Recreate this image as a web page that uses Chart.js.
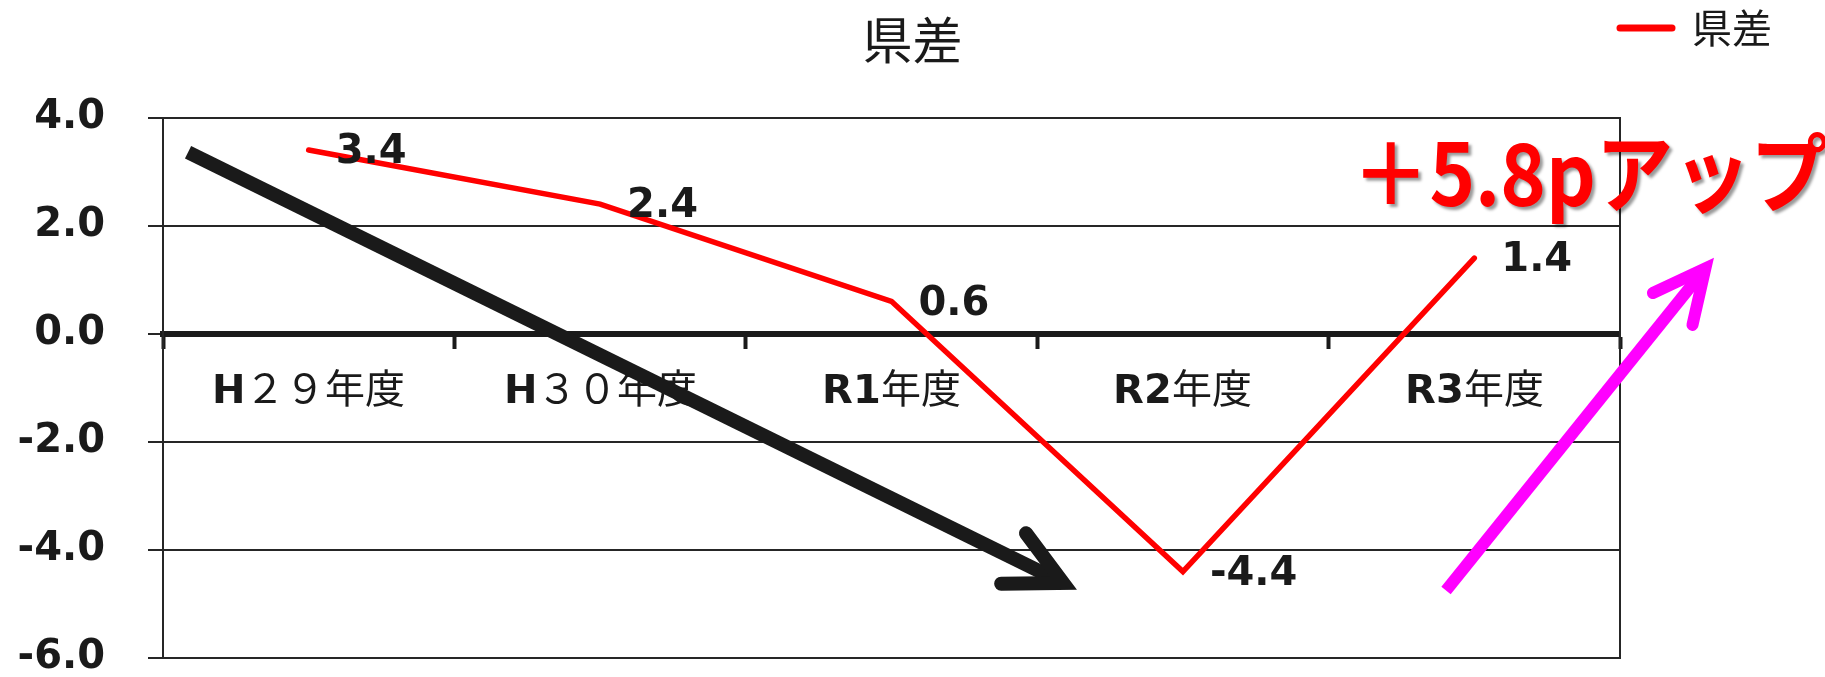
<!DOCTYPE html>
<html><head><meta charset="utf-8">
<script src="https://cdn.jsdelivr.net/npm/chart.js@4.4.1/dist/chart.umd.min.js"></script>
<style>
html,body{margin:0;padding:0;background:#fff;overflow:hidden}
@font-face{font-family:'LatinBold';src:local('DejaVu Sans Bold'),local('DejaVuSans-Bold');font-weight:bold;}
@font-face{font-family:'CJKReg';src:local('Noto Sans CJK JP Regular'),local('NotoSansCJKjp-Regular'),local('Noto Sans CJK JP');font-weight:bold;}
</style>
</head><body>
<canvas id="c" width="1825" height="677"></canvas>
<script>
// ---- data ----
const categories = ['H２９年度', 'H３０年度', 'R1年度', 'R2年度', 'R3年度'];
const values = [3.4, 2.4, 0.6, -4.4, 1.4];
const yTickValues = [-6, -4, -2, 0, 2, 4];
const seriesName = '県差';
const chartTitle = '県差';
const noteText = '＋5.8pアップ';
// annotation anchors in data units: [category index, value]
const downArrowFrom = [-0.414, 3.36];
const downArrowTo = [2.589, -4.61];
const upArrowFrom = [3.903, -4.75];
const upArrowTo = [4.793, 1.21];
const noteAnchor = [4.397, 2.96];

const FONT_MIX = 'LatinBold, CJKReg, "DejaVu Sans", "Noto Sans CJK JP", sans-serif';
const FONT_LATIN = '"DejaVu Sans", "Noto Sans CJK JP", sans-serif';
const FONT_CJK = '"Noto Sans CJK JP", "DejaVu Sans", sans-serif';
const INK = '#1a1a1a';

function drawArrow(ctx, p1, p2, color, w, head, angDeg) {
  const [x1, y1] = p1, [x2, y2] = p2;
  const a = Math.atan2(y2 - y1, x2 - x1), t = angDeg * Math.PI / 180;
  ctx.save();
  ctx.strokeStyle = color; ctx.lineWidth = w;
  ctx.lineCap = 'butt';
  ctx.beginPath(); ctx.moveTo(x1, y1);
  ctx.lineTo(x2 - Math.cos(a) * w * 0.5, y2 - Math.sin(a) * w * 0.5);
  ctx.stroke();
  ctx.lineCap = 'round'; ctx.lineJoin = 'miter'; ctx.miterLimit = 10;
  ctx.beginPath();
  ctx.moveTo(x2 - head * Math.cos(a - t), y2 - head * Math.sin(a - t));
  ctx.lineTo(x2, y2);
  ctx.lineTo(x2 - head * Math.cos(a + t), y2 - head * Math.sin(a + t));
  ctx.stroke();
  ctx.restore();
}

const valueLabels = {
  id: 'valueLabels',
  afterDatasetsDraw(chart) {
    const ctx = chart.ctx, meta = chart.getDatasetMeta(0);
    ctx.save();
    ctx.font = 'bold 40px ' + FONT_LATIN;
    ctx.fillStyle = INK; ctx.textAlign = 'left'; ctx.textBaseline = 'middle';
    meta.data.forEach((pt, i) => ctx.fillText(values[i].toFixed(1), pt.x + 27, pt.y + 3));
    ctx.restore();
  }
};

const annotations = {
  id: 'annotations',
  afterDraw(chart) {
    const {ctx, scales: {x, y}} = chart;
    const P = ([i, v]) => [x.getPixelForValue(i), y.getPixelForValue(v)];
    drawArrow(ctx, P(downArrowFrom), P(downArrowTo), INK, 14, 62, 27);
    drawArrow(ctx, P(upArrowFrom), P(upArrowTo), '#ff00ff', 12, 58, 26);
    const [tx, ty] = P(noteAnchor);
    ctx.save();
    ctx.translate(tx, ty);
    ctx.scale(0.9, 1);
    ctx.font = 'bold 86px ' + FONT_CJK;
    ctx.fillStyle = '#ff0000'; ctx.textAlign = 'center'; ctx.textBaseline = 'middle';
    ctx.shadowColor = 'rgba(0,0,0,0.4)'; ctx.shadowOffsetX = 3; ctx.shadowOffsetY = 3; ctx.shadowBlur = 3;
    ctx.fillText(noteText, 0, 0);
    ctx.restore();
  }
};

// keep y tick labels from being clipped by the scale box (they extend into the left padding)
const unclipY = {
  id: 'unclipY',
  afterLayout(chart) { chart.scales.y.left = 0; }
};

function makeChart() {
  new Chart(document.getElementById('c'), {
    type: 'line',
    data: {
      labels: categories,
      datasets: [{
        label: seriesName,
        data: values,
        borderColor: '#ff0000',
        backgroundColor: '#ff0000',
        borderWidth: 5.5,
        borderCapStyle: 'round',
        pointRadius: 0,
        tension: 0,
        fill: false,
        xAxisID: 'x',
        yAxisID: 'y'
      }]
    },
    options: {
      responsive: false,
      animation: false,
      devicePixelRatio: 1,
      layout: { padding: { left: 45, right: 45, top: 0, bottom: 0 } },
      plugins: {
        legend: {
          display: true,
          position: 'top',
          align: 'end',
          weight: 3000,
          labels: {
            usePointStyle: true,
            pointStyle: 'line',
            pointStyleWidth: 52,
            boxHeight: 40,
            padding: 8,
            color: INK,
            font: { family: FONT_CJK, size: 40, weight: 'normal' },
            generateLabels(chart) {
              return Chart.defaults.plugins.legend.labels.generateLabels(chart).map(it => {
                it.pointStyle = 'line'; it.lineWidth = 7; it.strokeStyle = '#ff0000'; it.lineCap = 'round';
                return it;
              });
            }
          }
        },
        title: {
          display: true,
          text: chartTitle,
          color: INK,
          font: { family: FONT_CJK, size: 50, weight: 'normal', lineHeight: 1.2 },
          padding: { top: -48, bottom: 47.6 }
        },
        tooltip: { enabled: false }
      },
      scales: {
        x: {
          type: 'category',
          position: { y: 0 },
          offset: true,
          grid: { offset: true, drawOnChartArea: false, drawTicks: true, tickLength: 12, tickWidth: 4, tickColor: INK },
          border: { display: true, color: INK, width: 6 },
          ticks: { color: INK, padding: 23, maxRotation: 0, autoSkip: false,
                   font: { family: FONT_MIX, size: 40, weight: 'bold', lineHeight: 1.2 } },
          afterFit(s) { s.height = 0; s.paddingLeft = 0; s.paddingRight = 0; }
        },
        y: {
          type: 'linear',
          position: 'left',
          min: yTickValues[0],
          max: yTickValues[yTickValues.length - 1],
          afterBuildTicks(s) { s.ticks = yTickValues.map(v => ({ value: v })); },
          grid: { color: '#262626', lineWidth: 2, drawTicks: true, tickLength: 15, tickColor: '#262626' },
          border: { display: true, color: '#262626', width: 2 },
          ticks: { color: INK, padding: 43, callback: v => Number(v).toFixed(1),
                   font: { family: FONT_LATIN, size: 40, weight: 'bold', lineHeight: 1 } },
          afterFit(s) { s.width = 118; s.paddingTop = 0; s.paddingBottom = 19; }
        },
        yR: {
          type: 'linear',
          position: 'right',
          display: true,
          grid: { display: false, drawTicks: false },
          ticks: { display: false },
          border: { display: true, color: '#262626', width: 2 },
          afterFit(s) { s.width = 160; s.paddingTop = 0; s.paddingBottom = 0; }
        }
      }
    },
    plugins: [unclipY, valueLabels, annotations]
  });
}

Promise.all([
  document.fonts.load('bold 40px LatinBold', 'HR0123'),
  document.fonts.load('bold 40px CJKReg', '年度２９３０'),
  document.fonts.load('40px "Noto Sans CJK JP"', '県差'),
  document.fonts.load('bold 86px "Noto Sans CJK JP"', '＋5.8pアップ'),
  document.fonts.load('bold 40px "DejaVu Sans"', '0123456789.-')
]).catch(() => {}).then(makeChart);
</script>
</body></html>
